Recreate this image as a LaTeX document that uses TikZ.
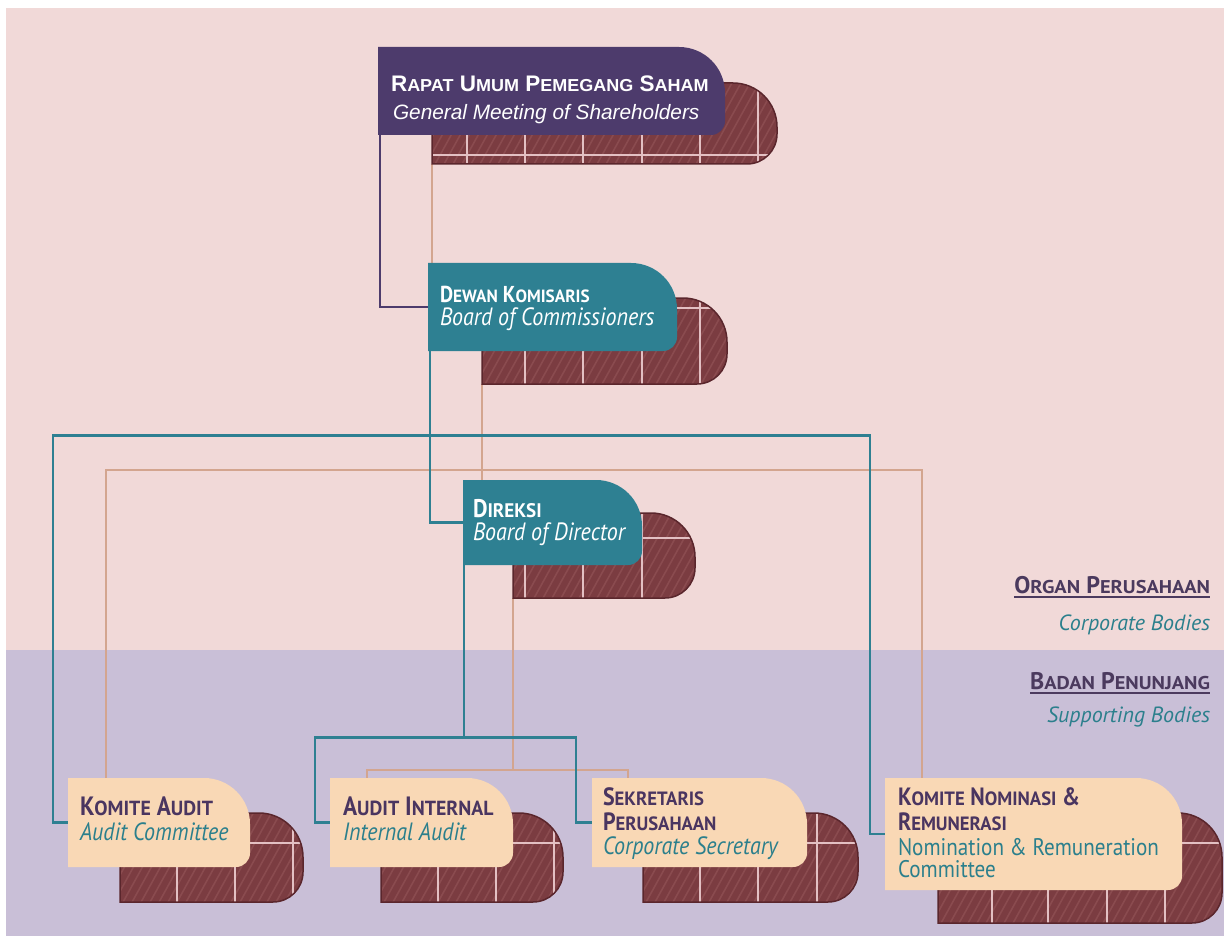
\documentclass[tikz,border=0pt]{standalone}
\usepackage{fontspec}
\usepackage{graphicx}
\setmainfont{PT Sans}[FakeStretch=0.88]
\newfontfamily\labf{PT Sans}
\newfontfamily\arialf{Liberation Sans}
\newcommand\smc[1]{\scalebox{0.85}[0.77]{#1}}
\newcommand\smca[1]{\scalebox{0.8}[0.77]{#1}}
\definecolor{pinkbg}{HTML}{F1D9D8}
\definecolor{lavbg}{HTML}{C9BFD7}
\definecolor{purpc}{HTML}{4D3B6C}
\definecolor{tealc}{HTML}{2E8092}
\definecolor{peachc}{HTML}{F9D8B5}
\definecolor{shelfc}{HTML}{7B3C41}
\definecolor{hatchc}{HTML}{8A4B4F}
\definecolor{edgec}{HTML}{5A262C}
\definecolor{gridc}{HTML}{E3C0C3}
\definecolor{tanc}{HTML}{D3A58F}
\definecolor{titlec}{HTML}{4A3560}
\definecolor{subc}{HTML}{2B7F8C}
\definecolor{labc}{HTML}{4B3A5E}
\tikzset{
 hold/.style={inner sep=0, outer sep=0, anchor=north west},
 tl/.style={inner sep=0, outer sep=0, anchor=base west},
 tr/.style={inner sep=0, outer sep=0, anchor=base east},
 tealln/.style={draw=tealc, line width=2.8},
 purpln/.style={draw=purpc, line width=2.6},
 tanln/.style={draw=tanc, line width=2.2},
 hatch/.style={draw=hatchc, line width=1.6},
 gridln/.style={draw=gridc, line width=1.4},
 shelfedge/.style={draw=edgec, line width=1.5},
}
\newcommand\shelf[5]{%
 \begin{scope}
 \clip (#1,#2) -- ({#3-44},#2) arc[start angle=-90,end angle=0,radius=44] -- (#3,{#4-30}) arc[start angle=0,end angle=90,radius=30] -- (#1,#4) -- cycle;
 \fill[shelfc] ({#1-2},{#2-2}) rectangle ({#3+2},{#4+2});
 \foreach \k in {0,...,48} \draw[hatch] ({#1-70+\k*9},{#4+2}) -- ++(62,-112);
 #5
 \end{scope}
 \draw[shelfedge] (#1,#4) -- (#1,#2) -- ({#3-44},#2) arc[start angle=-90,end angle=0,radius=44] -- (#3,{#4-30}) arc[start angle=0,end angle=90,radius=30] -- cycle;
}
\newcommand\tabbox[5]{%
 \fill[#1] (#2,#3) -- ({#4-46},#3) arc[start angle=-90,end angle=0,radius=46] -- (#4,{#5-14}) arc[start angle=0,end angle=90,radius=14] -- (#2,#5) -- cycle;
}
\begin{document}
\begin{tikzpicture}[x=1pt,y=-1pt]
\useasboundingbox (0,0) rectangle (1224,936);
\fill[white] (0,0) rectangle (1224,936);
\fill[pinkbg] (6,8) rectangle (1224,650);
\fill[lavbg] (6,650) rectangle (1224,936);

% named box nodes (shapes drawn below)
\node[hold, minimum width=347, minimum height=88] (rups) at (378,47) {};
\node[hold, minimum width=345, minimum height=81] (ruS) at (432,83) {};
\node[hold, minimum width=249, minimum height=88] (dk) at (428,263) {};
\node[hold, minimum width=245, minimum height=86] (dkS) at (482,298) {};
\node[hold, minimum width=179, minimum height=85] (dir) at (463,480) {};
\node[hold, minimum width=182, minimum height=85] (dirS) at (513,513) {};
\node[hold, minimum width=182, minimum height=89] (ka) at (68,778) {};
\node[hold, minimum width=183, minimum height=89] (ai) at (330,778) {};
\node[hold, minimum width=215, minimum height=89] (sp) at (592,778) {};
\node[hold, minimum width=297, minimum height=112] (kn) at (885,778) {};

% connectors
\draw[tanln] (ruS.south west) -- (ruS.south west |- dk.north);
\draw[tanln] (dkS.south west) -- (dkS.south west |- dir.north);
\draw[tanln] ([xshift=38]ka.north west) -- ++(0,-308) -| ([xshift=37]kn.north west);
\draw[tanln] (dirS.south west) -- ++(0,172);
\draw[tanln] ([xshift=37]ai.north west) -- ++(0,-8) -| ([xshift=36]sp.north west);
\draw[purpln] ([xshift=2]rups.south west) |- (dk.west);
\draw[tealln] ([xshift=2]dk.south west) |- (dir.west);
\draw[tealln] (ka.west) -- ++(-15,0) -- ++(0,-387) -| ([xshift=-15]kn.west) -- (kn.west);
\draw[tealln] ([xshift=1]dir.south west) -- ++(0,172);
\draw[tealln] (ai.west) -- ++(-15,0) -- ++(0,-85) -| ([xshift=-16]sp.west) -- (sp.west);

% shelves
\shelf{432}{83}{777}{164}{%
 \foreach \x in {467,525,583,642,700,758} \draw[gridln] (\x,83) -- (\x,164);
 \draw[gridln] (432,155) -- (777,155);}
\shelf{482}{298}{727}{384}{%
 \foreach \x in {525,583,642,700} \draw[gridln] (\x,298) -- (\x,384);
 \draw[gridln] (482,308) -- (727,308);}
\shelf{513}{513}{695}{598}{%
 \foreach \x in {525,583,642} \draw[gridln] (\x,513) -- (\x,598);
 \draw[gridln] (513,538) -- (695,538);}
\shelf{120}{813}{303}{902}{%
 \foreach \x in {177,235,293} \draw[gridln] (\x,813) -- (\x,902);
 \draw[gridln] (120,843) -- (303,843);}
\shelf{381}{813}{563}{902}{%
 \foreach \x in {438,496,554} \draw[gridln] (\x,813) -- (\x,902);
 \draw[gridln] (381,843) -- (563,843);}
\shelf{643}{813}{858}{902}{%
 \foreach \x in {700,758,817} \draw[gridln] (\x,813) -- (\x,902);
 \draw[gridln] (643,843) -- (858,843);}
\shelf{938}{813}{1222}{923}{%
 \foreach \x in {992,1048,1107,1165} \draw[gridln] (\x,813) -- (\x,923);
 \draw[gridln] (938,843) -- (1222,843);}

% boxes
\tabbox{purpc}{378}{47}{725}{135}
\tabbox{tealc}{428}{263}{677}{351}
\tabbox{tealc}{463}{480}{642}{565}
\tabbox{peachc}{68}{778}{250}{867}
\tabbox{peachc}{330}{778}{513}{867}
\tabbox{peachc}{592}{778}{807}{867}
\tabbox{peachc}{885}{778}{1182}{890}

% texts
\node[tl, text=white, font=\arialf\bfseries\fontsize{22.5}{26}\selectfont] (rups1) at (391,92) {R\smca{APAT} U\smca{MUM} P\smca{EMEGANG} S\smca{AHAM}};
\node[tl, text=white, font=\arialf\itshape\fontsize{20.8}{24}\selectfont] (rups2) at (393,120) {General Meeting of Shareholders};
\node[tl, text=white, font=\bfseries\fontsize{23}{27}\selectfont] (dk1) at (440,302) {D\smc{EWAN} K\smc{OMISARIS}};
\node[tl, text=white, font=\itshape\fontsize{25}{29}\selectfont] (dk2) at (440,325) {Board of Commissioners};
\node[tl, text=white, font=\bfseries\fontsize{25.5}{29}\selectfont] (dir1) at (473,517) {D\smc{IREKSI}};
\node[tl, text=white, font=\itshape\fontsize{25}{29}\selectfont] (dir2) at (473,540) {Board of Director};
\node[tl, text=titlec, font=\bfseries\fontsize{26.5}{30}\selectfont] (ka1) at (80,815) {K\smc{OMITE} A\smc{UDIT}};
\node[tl, text=subc, font=\itshape\fontsize{25}{29}\selectfont] (ka2) at (80,840) {Audit Committee};
\node[tl, text=titlec, font=\bfseries\fontsize{26.5}{30}\selectfont] (ai1) at (343,815) {A\smc{UDIT} I\smc{NTERNAL}};
\node[tl, text=subc, font=\itshape\fontsize{25}{29}\selectfont] (ai2) at (343,840) {Internal Audit};
\node[tl, text=titlec, font=\bfseries\fontsize{25}{29}\selectfont] (sp1) at (603,805) {S\smc{EKRETARIS}};
\node[tl, text=titlec, font=\bfseries\fontsize{25}{29}\selectfont] (sp2) at (603,830) {P\smc{ERUSAHAAN}};
\node[tl, text=subc, font=\itshape\fontsize{25}{29}\selectfont] (sp3) at (603,854) {Corporate Secretary};
\node[tl, text=titlec, font=\bfseries\fontsize{25}{29}\selectfont] (kn1) at (898,805) {K\smc{OMITE} N\smc{OMINASI} \&};
\node[tl, text=titlec, font=\bfseries\fontsize{25}{29}\selectfont] (kn2) at (898,830) {R\smc{EMUNERASI}};
\node[tl, text=subc, font=\fontsize{24}{28}\selectfont] (kn3) at (898,855) {Nomination \& Remuneration};
\node[tl, text=subc, font=\fontsize{24}{28}\selectfont] (kn4) at (898,877) {Committee};

\node[tr, text=labc, font=\labf\bfseries\fontsize{24}{28}\selectfont] (op) at (1210,593) {O\smc{RGAN} P\smc{ERUSAHAAN}};
\draw[labc, line width=2] ([yshift=-4]op.base west) -- ([yshift=-4]op.base east);
\node[tr, text=subc, font=\labf\itshape\fontsize{22}{26}\selectfont] (cb) at (1210,630) {Corporate Bodies};
\node[tr, text=labc, font=\labf\bfseries\fontsize{24}{28}\selectfont] (bp) at (1210,689) {B\smc{ADAN} P\smc{ENUNJANG}};
\draw[labc, line width=2] ([yshift=-4]bp.base west) -- ([yshift=-4]bp.base east);
\node[tr, text=subc, font=\labf\itshape\fontsize{22}{26}\selectfont] (sb) at (1210,722) {Supporting Bodies};
\end{tikzpicture}
\end{document}
